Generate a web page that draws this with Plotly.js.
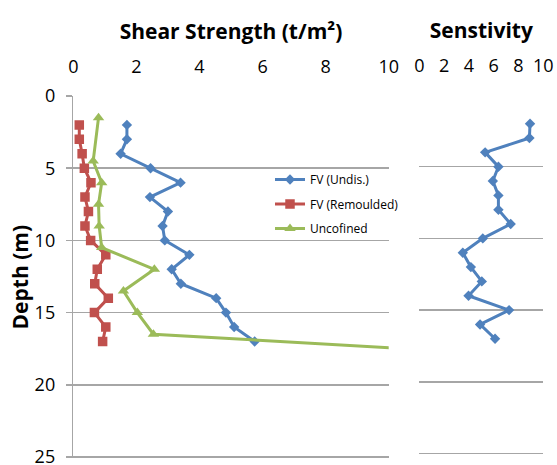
<!DOCTYPE html>
<html>
<head>
<meta charset="utf-8">
<script src="https://cdn.plot.ly/plotly-3.0.1.min.js"></script>
<style>html,body{margin:0;padding:0;background:#fff;}#chart{width:557px;height:465px;}</style>
</head>
<body>
<div id="chart"></div>
<script>
// Field vane undisturbed shear strength (t/m2) by depth (m)
const undisDepth = [2, 3, 4, 5, 6, 7, 8, 9, 10, 11, 12, 13, 14, 15, 16, 17];
const undisValue = [1.7, 1.7, 1.5, 2.45, 3.4, 2.43, 3.0, 2.83, 2.9, 3.68, 3.12, 3.41, 4.53, 4.84, 5.1, 5.75];
// Field vane remoulded
const remDepth = [2, 3, 4, 5, 6, 7, 8, 9, 10, 11, 12, 13, 14, 15, 16, 17];
const remValue = [0.19, 0.19, 0.28, 0.35, 0.56, 0.37, 0.48, 0.37, 0.55, 1.03, 0.76, 0.68, 1.11, 0.67, 1.03, 0.93];
// Unconfined
const uncDepth = [1.5, 4.5, 6, 7.5, 9, 10.5, 12, 13.5, 15, 16.5, 18];
const uncValue = [0.8, 0.63, 0.9, 0.8, 0.82, 0.9, 2.57, 1.59, 2.03, 2.54, 14.6];
// Sensitivity
const sensDepth = [2, 3, 4, 5, 6, 7, 8, 9, 10, 11, 12, 13, 14, 15, 16, 17];
const sensValue = [8.93, 8.88, 5.31, 6.38, 5.93, 6.38, 6.38, 7.37, 5.12, 3.51, 4.16, 5.04, 3.97, 7.24, 4.9, 6.11];

const xTicks = [0, 2, 4, 6, 8, 10];
const yTicks = [0, 5, 10, 15, 20, 25];
const names = ['FV (Undis.)', 'FV (Remoulded)', 'Uncofined'];

const BLUE = '#4F81BD', RED = '#C0504D', GREEN = '#9BBB59';
const FONT = 'Open Sans, sans-serif';
const LW = 3;

const traces = [
  {x: undisValue, y: undisDepth, name: names[0], mode: 'lines+markers', xaxis: 'x', yaxis: 'y',
   line: {color: BLUE, width: LW}, marker: {symbol: 'diamond', size: 8, color: BLUE}, legendgroup: 'a'},
  {x: remValue, y: remDepth, name: names[1], mode: 'lines+markers', xaxis: 'x', yaxis: 'y',
   line: {color: RED, width: LW}, marker: {symbol: 'square', size: 9.5, color: RED}, legendgroup: 'b'},
  {x: uncValue, y: uncDepth, name: names[2], mode: 'lines+markers', xaxis: 'x', yaxis: 'y',
   line: {color: GREEN, width: LW}, marker: {symbol: 'triangle-up', size: 10, color: GREEN}, legendgroup: 'c'},
  {x: sensValue, y: sensDepth, name: 'Sensitivity', mode: 'lines+markers', xaxis: 'x2', yaxis: 'y2',
   line: {color: BLUE, width: LW}, marker: {symbol: 'diamond', size: 8, color: BLUE}, showlegend: false}
];

const gridC = '#a6a6a6';
const tickFont = {family: FONT, size: 18, color: '#000'};
const titleFont = {family: FONT, size: 21, color: '#000', weight: 'bold'};
// range extends a little past 25 so that the bottom gridline is kept and the top (0) one is dropped
const yRange = [25.1, 0];

const layout = {
  width: 557, height: 465,
  margin: {l: 0, r: 0, t: 0, b: 0},
  paper_bgcolor: '#fff', plot_bgcolor: 'rgba(0,0,0,0)',
  showlegend: true,
  legend: {x: 270/557, y: 1 - 165/465, xanchor: 'left', yanchor: 'top',
           font: {family: FONT, size: 12, color: '#000'}, bgcolor: 'rgba(0,0,0,0)',
           traceorder: 'grouped', tracegroupgap: 5.5, itemwidth: 30},
  xaxis: {domain: [73.3/557, 388.7/557], range: [0, 10], side: 'top', anchor: 'y',
          tickvals: xTicks, ticktext: xTicks.map(String), tickfont: tickFont,
          showgrid: false, zeroline: false, showline: false,
          ticks: '', ticklabelstandoff: 18, automargin: false,
          title: {text: 'Shear Strength (t/m²)', font: titleFont, standoff: 9}},
  yaxis: {domain: [1 - 458.44/465, 1 - 96/465], range: yRange, anchor: 'x',
          tickvals: yTicks, ticktext: yTicks.map(String), tickfont: tickFont,
          showgrid: true, gridcolor: gridC, gridwidth: 1.5, zeroline: false,
          showline: true, linecolor: gridC, linewidth: 1.5,
          ticks: 'outside', ticklen: 6, tickcolor: gridC, tickwidth: 1.5, ticklabelstandoff: 7,
          ticklabeloverflow: 'allow', automargin: false,
          title: {text: 'Depth (m)', font: titleFont, standoff: 0}},
  xaxis2: {domain: [419.3/557, 543.3/557], range: [0, 10], side: 'top', anchor: 'y2',
           tickvals: xTicks, ticktext: xTicks.map(String), tickfont: tickFont,
           showgrid: false, zeroline: false, showline: false,
           ticks: '', ticklabelstandoff: 18, automargin: false,
           title: {text: 'Senstivity', font: titleFont, standoff: 9}},
  yaxis2: {domain: [1 - 454.93/465, 1 - 95/465], range: yRange, anchor: 'x2',
           tickvals: yTicks, showticklabels: false,
           showgrid: true, gridcolor: gridC, gridwidth: 1.5, zeroline: false,
           showline: false, ticks: '', automargin: false}
};

Plotly.newPlot('chart', traces, layout, {displayModeBar: false, staticPlot: true});
</script>
</body>
</html>
